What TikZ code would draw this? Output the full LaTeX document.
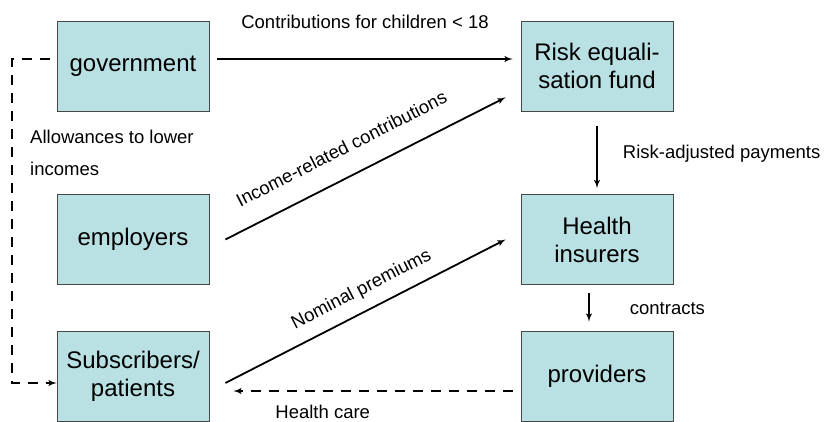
\documentclass[tikz,border=0pt]{standalone}
\usepackage{fontspec}
\setmainfont{Liberation Sans}
\usetikzlibrary{shapes,arrows}
\definecolor{boxfill}{RGB}{185,224,227}
\definecolor{boxline}{RGB}{70,70,70}

\begin{document}
\begin{tikzpicture}[auto, node distance=464pt, >=latex']
	% Define block styles
	\tikzstyle{block} = [rectangle, draw=boxline, line width=0.8pt, fill=boxfill, minimum width=152pt, minimum height=90pt, inner sep=0pt, align=center, font=\fontsize{24}{28}\selectfont]
	\tikzstyle{line} = [draw, line width=1.8pt, ->]
	\tikzstyle{dline} = [draw, line width=1.8pt, ->, dash pattern=on 10pt off 8pt]
	\tikzstyle{lbl} = [inner sep=0pt, font=\fontsize{18.5}{32}\selectfont]

	\useasboundingbox (0,0) rectangle (830pt,-421pt);

	% Nodes
	\node [block] (government) at (133pt,-66pt) {government};
	\node [block, right of=government] (fund) {Risk equali-\\sation fund};
	\node [block, node distance=173.5pt, below of=government] (employers) {employers};
	\node [block, node distance=136.5pt, below of=employers] (subscribers) {Subscribers/\\patients};
	\node [block, node distance=173.5pt, below of=fund] (insurers) {Health\\insurers};
	\node [block, node distance=136.5pt, below of=insurers] (providers) {providers};
	\node [lbl, anchor=base west, align=left] (allowances) at (30pt,-175pt) {Allowances to lower\\incomes};

	% Connecting lines
	\path [line] ([xshift=8pt,yshift=7pt]government.east) -- node[lbl, anchor=base, yshift=31pt] (children) {Contributions for children < 18} ([xshift=-8pt,yshift=7pt]fund.west);
	\path [line] ([xshift=16pt]employers.east) -- node[lbl, pos=0.46, sloped, anchor=base, yshift=22pt] (income) {Income-related contributions} ([xshift=-15pt,yshift=14pt]fund.south west);
	\path [line] ([xshift=16pt,yshift=-7pt]subscribers.east) -- node[lbl, pos=0.52, sloped, anchor=base, yshift=16pt] (premiums) {Nominal premiums} ([xshift=-15pt]insurers.west);
	\path [line] ([yshift=-15pt]fund.south) -- node[lbl, anchor=base west, xshift=25pt, yshift=-1pt] (payments) {Risk-adjusted payments} ([yshift=6pt]insurers.north);
	\path [line] ([xshift=-8pt,yshift=-8pt]insurers.south) -- node[lbl, anchor=base west, xshift=40pt, yshift=-7.5pt] (contracts) {contracts} ([xshift=-8pt,yshift=9pt]providers.north);
	\path [dline] ([xshift=-8pt,yshift=-15pt]providers.west) -- node[lbl, pos=0.68, anchor=base, yshift=-27pt] (care) {Health care} ([xshift=24pt,yshift=-15pt]subscribers.east);
	\path [dline] ([xshift=-7pt,yshift=7pt]government.west) -- ++(-38pt,0) |- ([yshift=-7pt]subscribers.west);
\end{tikzpicture}
\end{document}
